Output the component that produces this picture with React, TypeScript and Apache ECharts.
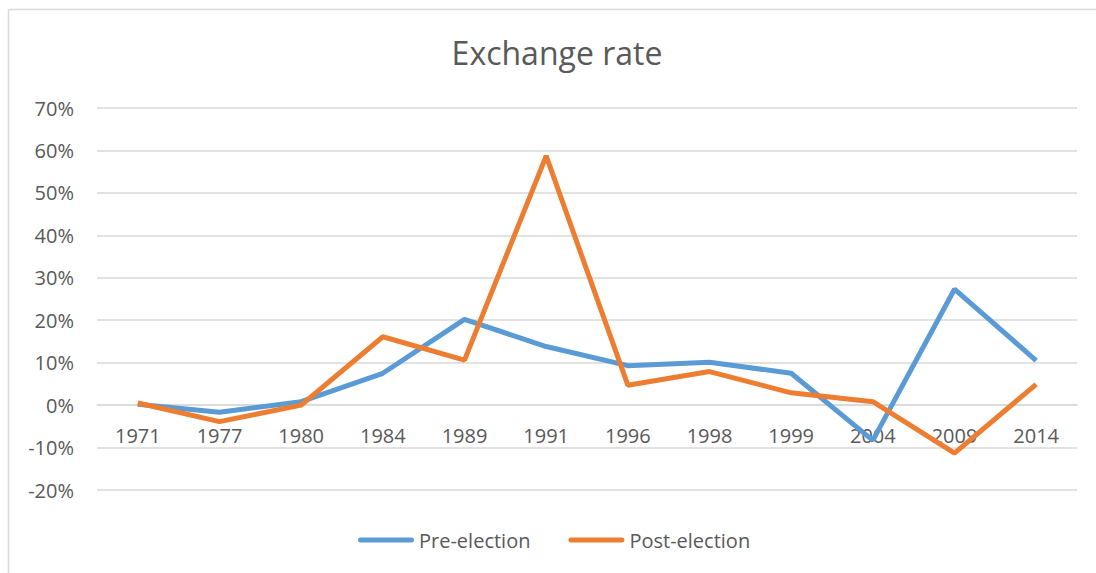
import React, { useEffect, useRef } from "react";
import * as echarts from "echarts";

const categories = ["1971", "1977", "1980", "1984", "1989", "1991", "1996", "1998", "1999", "2004", "2009", "2014"];
const preElection = [0.2, -1.7, 0.8, 7.5, 20.2, 13.8, 9.3, 10.1, 7.5, -8.3, 27.3, 10.5];
const postElection = [0.5, -3.9, 0.0, 16.1, 10.6, 58.7, 4.7, 7.9, 2.9, 0.8, -11.3, 4.9];
const seriesNames = ["Pre-election", "Post-election"];
const titleText = "Exchange rate";
const yMin = -20;
const yMax = 70;
const yStep = 10;

const FONT = "'Open Sans', sans-serif";
const TEXT = "#595959";
const GRID = "#d9d9d9";

export default function App() {
  const ref = useRef<HTMLDivElement>(null);
  useEffect(() => {
    if (!ref.current) return;
    const chart = echarts.init(ref.current, undefined, { renderer: "svg" });
    const pill = "path://M2.5,0 L53.5,0 A2.5,2.5 0 0 1 53.5,5 L2.5,5 A2.5,2.5 0 0 1 2.5,0 Z";
    const gridTop = 108;
    const gridBottom = 83;
    const gridHeight = 573 - gridTop - gridBottom;
    // move the category axis up onto the value-axis zero line
    const zeroOffset = -(gridHeight * (0 - yMin)) / (yMax - yMin);
    chart.setOption({
      animation: false,
      backgroundColor: "#ffffff",
      textStyle: { fontFamily: FONT },
      title: {
        text: titleText,
        left: 557,
        textAlign: "center",
        top: 36,
        padding: 0,
        textStyle: { fontFamily: FONT, fontSize: 32, fontWeight: "normal", color: TEXT },
      },
      legend: {
        data: [
          { name: seriesNames[0], icon: pill },
          { name: seriesNames[1], icon: pill },
        ],
        left: 358,
        top: 530,
        padding: 0,
        itemWidth: 56,
        itemHeight: 5,
        itemGap: 38,
        textStyle: { fontFamily: FONT, fontSize: 20, color: TEXT },
      },
      graphic: [
        { type: "line", shape: { x1: 8.5, y1: 9.5, x2: 1096, y2: 9.5 }, style: { stroke: GRID, lineWidth: 1.5 } },
        { type: "line", shape: { x1: 8.5, y1: 9.5, x2: 8.5, y2: 573 }, style: { stroke: GRID, lineWidth: 1.5 } },
      ],
      grid: { left: 97, right: 19, top: gridTop, bottom: gridBottom, containLabel: false },
      xAxis: {
        type: "category",
        data: categories,
        boundaryGap: true,
        offset: zeroOffset,
        axisLine: { show: true, onZero: false, lineStyle: { color: GRID, width: 1.5 } },
        axisTick: { show: false },
        axisLabel: { margin: 20, fontFamily: FONT, fontSize: 20, color: TEXT },
        splitLine: { show: false },
      },
      yAxis: {
        type: "value",
        min: yMin,
        max: yMax,
        interval: yStep,
        axisLine: { show: false },
        axisTick: { show: false },
        axisLabel: { margin: 23, fontFamily: FONT, fontSize: 20, color: TEXT, formatter: "{value}%" },
        splitLine: { lineStyle: { color: GRID, width: 1.5 } },
      },
      series: [
        {
          name: seriesNames[0],
          type: "line",
          data: preElection,
          symbol: "none",
          lineStyle: { color: "#5B9BD5", width: 5 },
          itemStyle: { color: "#5B9BD5" },
        },
        {
          name: seriesNames[1],
          type: "line",
          data: postElection,
          symbol: "none",
          lineStyle: { color: "#ED7D31", width: 5 },
          itemStyle: { color: "#ED7D31" },
        },
      ],
    });
    return () => chart.dispose();
  }, []);
  return (
    <div
      ref={ref}
      style={{ position: "absolute", left: 0, top: 0, width: 1096, height: 573, background: "#fff" }}
    />
  );
}
